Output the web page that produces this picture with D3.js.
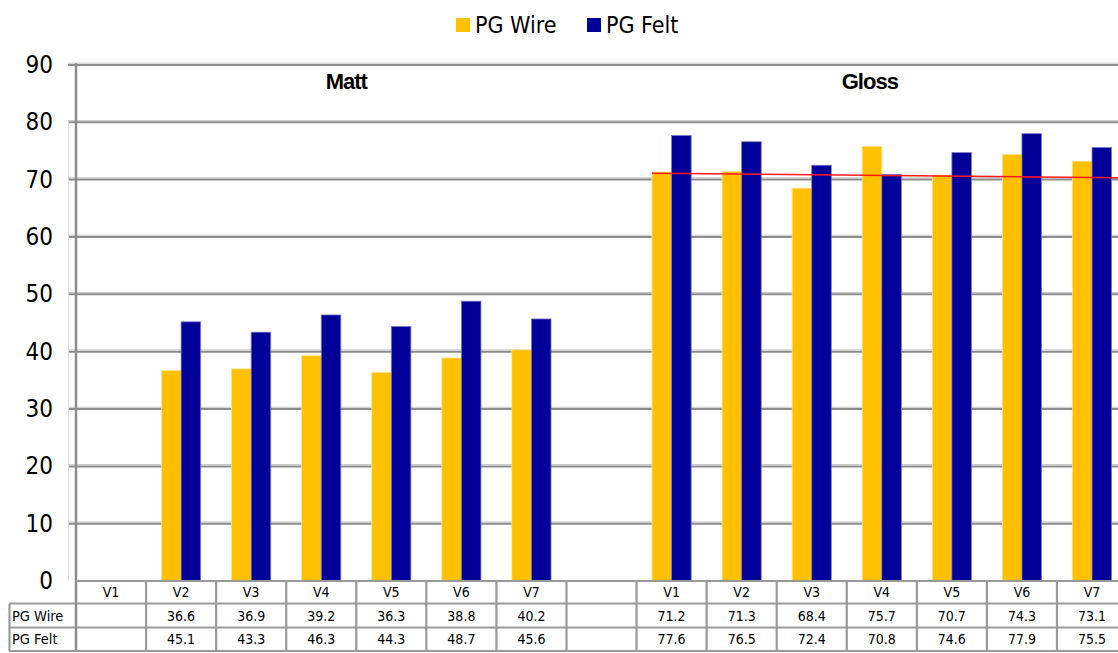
<!DOCTYPE html>
<html><head><meta charset="utf-8">
<script src="https://cdn.jsdelivr.net/npm/d3@7"></script>
<style>
html,body{margin:0;padding:0;background:#fff;}
svg{display:block;}
text{font-family:"DejaVu Sans Condensed","DejaVu Sans",sans-serif;font-stretch:condensed;}
</style></head>
<body>
<svg id="chart" width="1118" height="653"></svg>
<script>
// ---- data ----
const columns = ["M1","M2","M3","M4","M5","M6","M7","GAP","G1","G2","G3","G4","G5","G6","G7"];
const columnLabels = ["V1","V2","V3","V4","V5","V6","V7","","V1","V2","V3","V4","V5","V6","V7"];
const groupTitles = ["Matt","Gloss"];
const seriesNames = ["PG Wire","PG Felt"];
const pgWire = [null,36.6,36.9,39.2,36.3,38.8,40.2,null,71.2,71.3,68.4,75.7,70.7,74.3,73.1];
const pgFelt = [null,45.1,43.3,46.3,44.3,48.7,45.6,null,77.6,76.5,72.4,70.8,74.6,77.9,75.5];
const yTicks = [0,10,20,30,40,50,60,70,80,90];
const trendValues = [71.0, 70.2]; // red reference line over Gloss
const colors = ["#FFC000","#000099"];

// ---- layout ----
const svg = d3.select("#chart");
const left = 76, colW = 70.07;
const x = d3.scaleBand().domain(columns).range([left, left + colW*columns.length]).paddingInner(0).paddingOuter(0);
const xs = d3.scaleBand().domain(seriesNames).range([0, x.bandwidth()]).paddingInner(0).paddingOuter(0.79);
const y = d3.scaleLinear().domain([0,90]).range([580.5, 64.3]);
const xEnd = x.range()[1];
const rowTop = [580.5, 603.5, 627.5, 651];

// y labels via axis
const yAxis = d3.axisLeft(y).tickValues(yTicks).tickSize(0).tickPadding(0);
const ga = svg.append("g").attr("transform", `translate(53,0)`).call(yAxis);
ga.select(".domain").remove();
ga.selectAll("text").attr("font-size", 24).attr("fill","#000").attr("dy","0.34em").attr("x",0);

// gridlines
const grid = svg.append("g");
yTicks.forEach(t => {
  if (t === 0) return;
  grid.append("line").attr("x1",68).attr("x2",1118).attr("y1",y(t)-1.2).attr("y2",y(t)-1.2)
    .attr("stroke","#c8c8c8").attr("stroke-width",1);
  grid.append("line").attr("x1",68).attr("x2",1118).attr("y1",y(t)+0.6).attr("y2",y(t)+0.6)
    .attr("stroke","#8c8c8c").attr("stroke-width",2);
});
svg.append("line").attr("x1",68.5).attr("x2",68.5).attr("y1",y(80)).attr("y2",y(0))
  .attr("stroke","#e0e0e0").attr("stroke-width",1);

// bars
const data = columns.map((c,i)=>({col:c, vals:[pgWire[i], pgFelt[i]]}));
const bars = svg.append("g");
data.forEach(d => {
  d.vals.forEach((v,k) => {
    if (v == null) return;
    bars.append("rect")
      .attr("x", x(d.col) + xs(seriesNames[k]))
      .attr("y", y(v))
      .attr("width", xs.bandwidth())
      .attr("height", y(0) - y(v))
      .attr("fill", colors[k])
      .attr("stroke", k === 0 ? "#ffe28a" : "#7a7ac8")
      .attr("stroke-width", 0.8);
  });
});

// red reference line
svg.append("line")
  .attr("x1", x("G1") + xs(seriesNames[0])).attr("x2", xEnd)
  .attr("y1", y(trendValues[0])).attr("y2", y(trendValues[1]))
  .attr("stroke","#ff1a1a").attr("stroke-width",1.5);

// group titles
const mattMid = (x("M1") + x("GAP") + x.bandwidth())/2 - 10;
const glossMid = (x("G1") + xEnd)/2 - 12;
[[groupTitles[0], mattMid],[groupTitles[1], glossMid]].forEach(([t,cx]) => {
  svg.append("text").attr("x",cx).attr("y",89).attr("text-anchor","middle")
    .attr("font-size",22).attr("font-weight","bold").attr("fill","#000")
    .style("font-family","'Liberation Sans',Arial,sans-serif").style("letter-spacing","-1px").text(t);
});

// y axis vertical line
svg.append("line").attr("x1",76).attr("x2",76).attr("y1",y(90)-1).attr("y2",651)
  .attr("stroke","#8c8c8c").attr("stroke-width",2.5);

// ---- data table ----
const tbl = svg.append("g");
const lineStyle = sel => sel.attr("stroke","#999").attr("stroke-width",2.2);
lineStyle(tbl.append("line").attr("x1",76).attr("x2",1118).attr("y1",rowTop[0]+0.5).attr("y2",rowTop[0]+0.5));
[1,2,3].forEach(r => lineStyle(tbl.append("line").attr("x1",9).attr("x2",1118).attr("y1",rowTop[r]).attr("y2",rowTop[r])));
columns.forEach(c => {
  const xv = x(c) + x.bandwidth();
  lineStyle(tbl.append("line").attr("x1",xv).attr("x2",xv).attr("y1",rowTop[0]).attr("y2",651));
});
lineStyle(tbl.append("line").attr("x1",9.5).attr("x2",9.5).attr("y1",rowTop[1]).attr("y2",651));
columns.forEach((c,i) => {
  tbl.append("text").attr("x", x(c)+x.bandwidth()/2).attr("y",(rowTop[0]+rowTop[1])/2)
    .attr("dy","0.36em").attr("text-anchor","middle").attr("font-size",14).attr("fill","#000").text(columnLabels[i]);
});
[pgWire, pgFelt].forEach((arr,r) => {
  const cy = (rowTop[r+1]+rowTop[r+2])/2;
  tbl.append("text").attr("x",12).attr("y",cy).attr("dy","0.36em").attr("font-size",14.5).attr("fill","#000").text(seriesNames[r]);
  arr.forEach((v,i) => {
    if (v == null) return;
    tbl.append("text").attr("x", x(columns[i])+x.bandwidth()/2).attr("y",cy).attr("dy","0.36em")
      .attr("text-anchor","middle").attr("font-size",14).attr("fill","#000").text(v.toFixed(1));
  });
});

// ---- legend ----
const legend = svg.append("g");
const legX = [456, 587];
seriesNames.forEach((s,i) => {
  legend.append("rect").attr("x",legX[i]).attr("y",18).attr("width",14).attr("height",14).attr("fill",colors[i]);
  legend.append("text").attr("x",legX[i]+19).attr("y",25).attr("dy","0.36em").attr("font-size",23).attr("fill","#000").text(s);
});
</script>
</body></html>
